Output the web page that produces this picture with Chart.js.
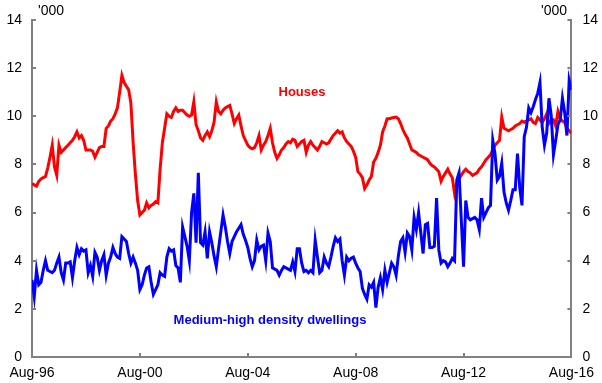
<!DOCTYPE html>
<html>
<head>
<meta charset="utf-8">
<script src="https://cdn.jsdelivr.net/npm/chart.js@4.4.1/dist/chart.umd.min.js"></script>
<style>
  html, body { margin: 0; padding: 0; background: #fff; }
  #wrap { width: 602px; height: 383px; }
</style>
</head>
<body>
<div id="wrap"><canvas id="starts"></canvas></div>
<script>
// monthly, Aug-96 to Aug-16 ('000)
const xTickLabels = ['Aug-96', 'Aug-00', 'Aug-04', 'Aug-08', 'Aug-12', 'Aug-16'];
const yTicks = [0, 2, 4, 6, 8, 10, 12, 14];

const houses = [
  7.2, 7.15, 7.1, 7.3, 7.4, 7.45, 7.5, 7.85, 8.3, 8.8,
  7.9, 7.55, 8.8, 8.5, 8.6, 8.7, 8.8, 8.9, 9.0, 9.15,
  9.35, 9.1, 9.2, 9.0, 8.6, 8.6, 8.6, 8.55, 8.3, 8.5,
  8.7, 8.75, 8.75, 9.5, 9.6, 9.8, 9.9, 10.1, 10.35, 11.0,
  11.7, 11.4, 11.25, 11.1, 10.55, 8.9, 7.6, 6.5, 5.9, 6.0,
  6.1, 6.4, 6.2, 6.3, 6.35, 6.45, 6.4, 7.8, 8.9, 9.5,
  10.1, 10.0, 9.95, 10.2, 10.35, 10.2, 10.25, 10.25, 10.15, 10.05,
  10.0, 10.05, 10.6, 9.65, 9.4, 9.1, 9.0, 9.2, 9.35, 9.15,
  9.4, 9.75, 10.6, 10.2, 10.1, 10.25, 10.35, 10.4, 10.45, 10.1,
  9.7, 9.9, 10.05, 9.6, 9.2, 9.0, 8.8, 8.7, 8.65, 8.7,
  8.9, 9.2, 8.6, 8.8, 8.95, 9.2, 9.5, 8.9, 8.5, 8.25,
  8.4, 8.6, 8.7, 8.85, 8.95, 8.9, 9.05, 9.0, 8.75, 8.85,
  8.95, 9.0, 8.5, 8.8, 8.95, 8.8, 8.7, 8.6, 8.75, 8.95,
  8.9, 8.85, 8.9, 9.05, 9.2, 9.3, 9.4, 9.3, 9.35, 9.1,
  8.95, 8.85, 8.75, 8.55, 8.3, 7.7, 7.6, 7.45, 7.0, 7.15,
  7.35, 7.5, 8.1, 8.25, 8.5, 8.8, 9.35, 9.6, 9.9, 9.9,
  9.93, 9.95, 9.97, 9.9, 9.7, 9.45, 9.25, 9.1, 8.85, 8.6,
  8.55, 8.5, 8.4, 8.35, 8.3, 8.25, 8.2, 8.05, 7.95, 7.9,
  7.8, 7.7, 7.3, 7.5, 7.65, 7.8, 7.6, 7.45, 6.8, 7.2,
  7.4, 7.55, 7.7, 7.8, 7.7, 7.65, 7.55, 7.6, 7.65, 7.8,
  7.9, 8.05, 8.2, 8.3, 8.4, 8.6, 8.8, 8.9, 9.0, 9.97,
  9.5, 9.45, 9.4, 9.45, 9.5, 9.6, 9.65, 9.7, 9.8, 9.75,
  9.8, 9.85, 9.9, 9.75, 9.7, 9.95, 9.85, 9.75, 9.9, 10.1,
  9.7, 9.8, 9.85, 9.6, 10.2, 9.9, 9.8, 9.75, 9.5, 9.4,
  9.3
];

const mediumHigh = [
  3.2, 2.5, 3.6, 3.0, 3.1, 3.6, 4.0, 3.6, 3.55, 3.5,
  3.6, 3.9, 4.15, 3.5, 3.2, 3.9, 3.9, 3.95, 3.3, 4.0,
  4.55, 4.25, 4.5, 4.4, 4.45, 3.5, 3.8, 3.35, 4.35, 4.15,
  3.6, 4.0, 4.25, 3.4, 3.9, 4.15, 4.55, 4.3, 4.15, 4.1,
  5.0, 4.9, 4.8, 4.3, 3.9, 4.15, 3.9, 3.6, 2.8, 3.0,
  3.4, 3.7, 3.75, 3.1, 2.6, 2.8, 3.0, 3.5, 3.4, 3.35,
  4.15, 4.5, 4.4, 4.45, 3.8, 3.7, 3.1, 5.4, 5.0, 4.6,
  4.0, 6.0, 6.8, 4.75, 7.65, 4.75, 4.65, 5.2, 4.1, 5.2,
  4.75, 4.2, 3.75, 4.5, 5.2, 5.9, 5.4, 4.8, 4.3, 4.8,
  5.0, 5.2, 5.35, 5.5, 5.1, 4.85, 4.55, 4.1, 3.75, 4.0,
  4.85, 4.45, 4.6, 4.65, 4.0, 5.15, 4.8, 3.7, 3.65, 3.6,
  3.4, 3.6, 3.75, 3.7, 3.65, 3.6, 3.95, 3.55, 4.5, 4.5,
  3.9, 3.55, 3.6, 3.5, 3.6, 3.5, 4.85, 4.15, 3.5, 3.6,
  4.15, 3.9, 3.75, 4.15, 4.6, 4.95, 4.8, 4.9, 4.0, 3.4,
  4.15, 4.0, 4.1, 4.15, 3.9, 3.7, 3.55, 2.85, 2.6, 2.4,
  3.0, 2.9, 3.1, 2.05, 2.9, 3.3, 2.8, 3.6, 3.1, 3.5,
  3.9, 3.75, 3.4, 4.2, 4.8, 4.95, 4.35, 5.15, 5.0, 4.45,
  5.8, 5.3, 6.0, 5.15, 4.3, 5.5, 5.55, 4.55, 4.55, 4.6,
  6.6, 4.45, 3.9, 4.0, 3.95, 3.75, 3.9, 4.1, 4.0, 7.35,
  7.65, 5.7, 3.75, 6.5, 5.8, 5.7, 5.75, 5.8, 5.7, 5.3,
  6.6, 5.8, 6.0, 6.2, 6.3, 9.0, 8.45, 7.35, 7.5, 8.05,
  6.85, 6.4, 6.1, 6.5, 6.95, 6.95, 8.45, 7.05, 6.3, 9.15,
  9.55, 10.35, 10.15, 10.4, 10.7, 10.95, 11.4, 9.55, 8.8, 9.3,
  10.75, 10.05, 8.4, 9.0, 9.65, 9.85, 10.75, 10.15, 9.2, 11.5,
  11.1
];

const axisGrey = '#808080';
const fontFamily = "'Liberation Sans', Arial, sans-serif";

function toPoints(arr) {
  return arr.map((v, i) => ({ x: i, y: v }));
}

// inward tick marks plus the text labels on the plot
const annotations = {
  id: 'annotations',
  afterDraw(chart) {
    const ctx = chart.ctx;
    const x = chart.scales.x, yl = chart.scales.y, yr = chart.scales.y2;
    ctx.save();
    ctx.strokeStyle = axisGrey;
    ctx.lineWidth = 2;
    ctx.beginPath();
    yTicks.forEach(t => {
      const py = Math.round(yl.getPixelForValue(t));
      ctx.moveTo(yl.right, py);
      ctx.lineTo(yl.right + 4, py);
      ctx.moveTo(yr.left, py);
      ctx.lineTo(yr.left - 4, py);
    });
    x.ticks.forEach(t => {
      const px = Math.round(x.getPixelForValue(t.value));
      ctx.moveTo(px, x.top);
      ctx.lineTo(px, x.top - 4);
    });
    ctx.stroke();

    ctx.fillStyle = '#000';
    ctx.font = '14px ' + fontFamily;
    ctx.textAlign = 'center';
    ctx.textBaseline = 'middle';
    ctx.fillText("'000", 51, 11);
    ctx.fillText("'000", 554, 11);

    ctx.font = 'bold 13px ' + fontFamily;
    ctx.fillStyle = '#ff0000';
    ctx.fillText('Houses', 302, 92);
    ctx.fillStyle = '#0000ff';
    ctx.fillText('Medium-high density dwellings', 270, 320);
    ctx.restore();
  }
};

new Chart(document.getElementById('starts').getContext('2d'), {
  type: 'line',
  data: {
    datasets: [
      {
        label: 'Medium-high density dwellings',
        data: toPoints(mediumHigh),
        borderColor: '#0000ff',
        borderWidth: 3,
        pointRadius: 0,
        fill: false
      },
      {
        label: 'Houses',
        data: toPoints(houses),
        borderColor: '#ff0000',
        borderWidth: 3,
        pointRadius: 0,
        fill: false
      }
    ]
  },
  options: {
    responsive: true,
    maintainAspectRatio: false,
    animation: false,
    layout: { padding: { top: 20, left: 0, right: 0, bottom: 0 } },
    plugins: {
      legend: { display: false },
      tooltip: { enabled: false }
    },
    scales: {
      x: {
        type: 'linear',
        min: 0,
        max: 240,
        grid: { display: false, drawTicks: false },
        border: { display: true, color: axisGrey, width: 2 },
        ticks: {
          stepSize: 48,
          autoSkip: false,
          maxRotation: 0,
          padding: 8,
          color: '#000',
          font: { family: fontFamily, size: 14 },
          callback: v => xTickLabels[v / 48]
        },
        afterFit: s => { s.height = 26; }
      },
      y: {
        position: 'left',
        min: 0,
        max: 14,
        grid: { display: false, drawTicks: false },
        border: { display: true, color: axisGrey, width: 2 },
        ticks: {
          stepSize: 2,
          padding: 10,
          color: '#000',
          font: { family: fontFamily, size: 14 }
        },
        afterFit: s => { s.width = 32; }
      },
      y2: {
        position: 'right',
        min: 0,
        max: 14,
        grid: { display: false, drawTicks: false },
        border: { display: true, color: axisGrey, width: 2 },
        ticks: {
          stepSize: 2,
          padding: 11,
          color: '#000',
          font: { family: fontFamily, size: 14 }
        },
        afterFit: s => { s.width = 29; }
      }
    }
  },
  plugins: [annotations]
});
</script>
</body>
</html>
